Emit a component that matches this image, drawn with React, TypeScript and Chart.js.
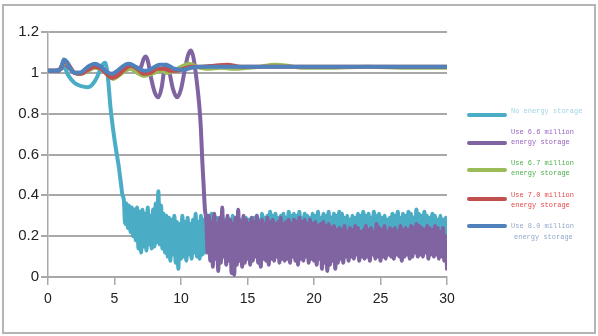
import React, { useEffect, useRef } from "react";
import { Chart, registerables } from "chart.js";

Chart.register(...registerables);

// ---------- data ----------
const seriesNames = [
  ["No energy storage"],
  ["Use 6.6 million", "energy storage"],
  ["Use 6.7 million", "energy storage"],
  ["Use 7.0 million", "energy storage"],
  ["Use 8.0 million", "energy storage"],
];
const seriesColors = ["#4bacc6", "#8064a2", "#9bbb59", "#c0504d", "#4f81bd"];
const legendTextColors = ["#9fd6e6", "#9a62c0", "#4fb04f", "#e24a4a", "#93a9c9"];

const xTicks = [0, 5, 10, 15, 20, 25, 30];
const yTicks = [0, 0.2, 0.4, 0.6, 0.8, 1, 1.2];
const yTickLabels = ["0", "0.2", "0.4", "0.6", "0.8", "1", "1.2"];

// No energy storage: smooth head then sampled noisy tail (step 0.1 from 5.7)
const noStorageHeadT = [0, 0.5, 1.0, 1.2, 1.5, 2.0, 2.5, 3.0, 3.3, 3.7, 4.0, 4.3, 4.5, 4.7, 4.9, 5.1, 5.3, 5.5, 5.6];
const noStorageHeadY = [1.01, 1.01, 1.02, 1.03, 0.99, 0.95, 0.935, 0.93, 0.94, 0.98, 1.03, 1.05, 0.98, 0.83, 0.72, 0.63, 0.55, 0.45, 0.40];
const noStorageTailStart = 5.7;
const noStorageTailY = [
  0.38, 0.26, 0.36, 0.24, 0.35, 0.22, 0.34, 0.20, 0.33, 0.18,
  0.34, 0.14, 0.32, 0.12, 0.33, 0.15, 0.31, 0.13, 0.34, 0.16,
  0.30, 0.14, 0.33, 0.15, 0.36, 0.17, 0.42, 0.16, 0.35, 0.14,
  0.31, 0.12, 0.30, 0.10, 0.29, 0.08, 0.28, 0.11, 0.30, 0.07,
  0.27, 0.04, 0.26, 0.09, 0.30, 0.10, 0.27, 0.08, 0.29, 0.11,
  0.26, 0.09, 0.28, 0.12, 0.31, 0.10, 0.27, 0.09, 0.30, 0.11,
  0.28, 0.12, 0.30, 0.15, 0.29, 0.16, 0.31, 0.14, 0.28, 0.17,
  0.29, 0.16, 0.27, 0.18, 0.30, 0.15, 0.28, 0.17, 0.26, 0.16,
  0.28, 0.15, 0.30, 0.17, 0.27, 0.16, 0.29, 0.18, 0.28, 0.15,
  0.27, 0.17, 0.29, 0.16, 0.28, 0.18, 0.26, 0.15, 0.29, 0.17,
  0.30, 0.16, 0.28, 0.17, 0.31, 0.18, 0.29, 0.16, 0.30, 0.17,
  0.32, 0.18, 0.30, 0.17, 0.31, 0.16, 0.29, 0.18, 0.30, 0.17,
  0.31, 0.16, 0.29, 0.18, 0.32, 0.17, 0.30, 0.16, 0.31, 0.18,
  0.30, 0.17, 0.32, 0.18, 0.29, 0.16, 0.31, 0.17, 0.30, 0.18,
  0.29, 0.16, 0.31, 0.18, 0.30, 0.17, 0.32, 0.16, 0.29, 0.18,
  0.31, 0.17, 0.30, 0.16, 0.32, 0.18, 0.29, 0.17, 0.31, 0.16,
  0.30, 0.18, 0.32, 0.17, 0.31, 0.16, 0.29, 0.18, 0.30, 0.17,
  0.28, 0.16, 0.30, 0.17, 0.29, 0.18, 0.31, 0.16, 0.30, 0.17,
  0.32, 0.18, 0.30, 0.17, 0.31, 0.16, 0.29, 0.18, 0.32, 0.17,
  0.30, 0.16, 0.31, 0.18, 0.29, 0.17, 0.30, 0.16, 0.28, 0.18,
  0.29, 0.17, 0.31, 0.16, 0.30, 0.18, 0.32, 0.17, 0.29, 0.16,
  0.31, 0.18, 0.30, 0.17, 0.32, 0.16, 0.31, 0.18, 0.29, 0.17,
  0.33, 0.16, 0.31, 0.18, 0.30, 0.17, 0.32, 0.16, 0.30, 0.18,
  0.29, 0.17, 0.31, 0.16, 0.30, 0.18, 0.28, 0.17, 0.30, 0.19,
  0.28, 0.20, 0.29, 0.19,
];

// Use 6.6 million energy storage
const storage66HeadT = [0, 0.5, 1.0, 1.2, 1.5, 2.0, 2.5, 3.0, 3.5, 4.0, 4.5, 4.8, 5.2, 5.8, 6.3, 6.8, 7.0, 7.2, 7.35, 7.5, 7.8, 8.05, 8.3, 8.55, 8.75, 8.9, 9.1, 9.4, 9.7, 10.0, 10.3, 10.55, 10.75, 10.95, 11.2, 11.4, 11.5, 11.6, 11.7, 11.8];
const storage66HeadY = [1.01, 1.01, 1.02, 1.05, 1.03, 1.0, 1.0, 1.01, 1.03, 1.02, 1.0, 0.99, 1.0, 1.02, 1.03, 1.02, 1.03, 1.07, 1.08, 1.06, 0.96, 0.9, 0.88, 0.93, 1.02, 1.04, 1.01, 0.92, 0.88, 0.92, 1.02, 1.09, 1.11, 1.07, 0.95, 0.82, 0.72, 0.57, 0.45, 0.33];
const storage66TailStart = 11.9;
const storage66TailY = [
  0.28, 0.12, 0.30, 0.08, 0.27, 0.05, 0.31, 0.09, 0.26, 0.03,
  0.29, 0.07, 0.34, 0.10, 0.27, 0.06, 0.30, 0.08, 0.28, 0.02,
  0.26, 0.01, 0.29, 0.06, 0.33, 0.08, 0.27, 0.05, 0.30, 0.07,
  0.28, 0.09, 0.26, 0.06, 0.29, 0.08, 0.27, 0.10, 0.30, 0.07,
  0.27, 0.05, 0.28, 0.09, 0.26, 0.08, 0.29, 0.06, 0.27, 0.09,
  0.28, 0.08, 0.26, 0.10, 0.27, 0.07, 0.29, 0.09, 0.26, 0.08,
  0.27, 0.09, 0.28, 0.07, 0.26, 0.10, 0.28, 0.08, 0.27, 0.06,
  0.29, 0.09, 0.27, 0.08, 0.28, 0.10, 0.26, 0.07, 0.28, 0.09,
  0.26, 0.08, 0.27, 0.06, 0.25, 0.09, 0.26, 0.04, 0.27, 0.07,
  0.25, 0.03, 0.26, 0.06, 0.24, 0.08, 0.25, 0.04, 0.23, 0.07,
  0.24, 0.09, 0.23, 0.07, 0.25, 0.10, 0.22, 0.08, 0.24, 0.10,
  0.23, 0.09, 0.25, 0.11, 0.24, 0.08, 0.22, 0.10, 0.23, 0.09,
  0.25, 0.10, 0.23, 0.08, 0.24, 0.11, 0.22, 0.09, 0.26, 0.10,
  0.24, 0.08, 0.23, 0.10, 0.25, 0.09, 0.22, 0.11, 0.24, 0.10,
  0.23, 0.09, 0.24, 0.11, 0.22, 0.10, 0.25, 0.08, 0.23, 0.10,
  0.24, 0.11, 0.23, 0.09, 0.25, 0.10, 0.24, 0.12, 0.26, 0.10,
  0.25, 0.11, 0.24, 0.10, 0.23, 0.12, 0.25, 0.09, 0.24, 0.11,
  0.23, 0.10, 0.25, 0.11, 0.24, 0.09, 0.22, 0.10, 0.24, 0.08,
  0.20, 0.04,
];

// Use 6.7 million energy storage
const storage67T = [0, 0.8, 1.0, 1.25, 1.5, 2.0, 2.5, 3.0, 3.5, 4.0, 4.5, 4.9, 5.3, 5.8, 6.2, 6.7, 7.2, 7.6, 8.0, 8.5, 9.0, 9.5, 10.0, 10.6, 11.2, 12.0, 13.0, 14.0, 15.0, 16.0, 17.0, 18.0, 19.0, 21.0, 24.0, 27.0, 30.0];
const storage67Y = [1.01, 1.01, 1.03, 1.055, 1.04, 1.0, 0.995, 1.01, 1.025, 1.02, 0.99, 0.97, 0.985, 1.01, 1.02, 1.0, 0.985, 0.99, 1.0, 1.01, 1.0, 1.01, 1.03, 1.045, 1.03, 1.02, 1.025, 1.02, 1.025, 1.03, 1.04, 1.035, 1.025, 1.025, 1.03, 1.025, 1.025];

// Use 7.0 million energy storage
const storage70T = [0, 0.8, 1.0, 1.25, 1.5, 2.0, 2.5, 3.0, 3.5, 4.0, 4.4, 4.8, 5.3, 5.8, 6.2, 6.7, 7.2, 7.7, 8.2, 8.7, 9.2, 9.7, 10.2, 10.8, 11.5, 12.5, 13.5, 14.5, 16.0, 18.0, 20.0, 23.0, 26.0, 30.0];
const storage70Y = [1.01, 1.01, 1.03, 1.06, 1.045, 1.0, 0.995, 1.015, 1.03, 1.02, 0.995, 0.975, 0.99, 1.02, 1.035, 1.02, 0.995, 1.0, 1.02, 1.02, 1.01, 1.01, 1.02, 1.03, 1.03, 1.035, 1.04, 1.03, 1.03, 1.03, 1.03, 1.03, 1.03, 1.03];

// Use 8.0 million energy storage
const storage80T = [0, 0.8, 1.0, 1.2, 1.4, 1.7, 2.0, 2.4, 3.0, 3.5, 4.0, 4.4, 4.8, 5.3, 5.8, 6.1, 6.6, 7.0, 7.4, 7.9, 8.4, 8.9, 9.5, 10.2, 10.8, 11.5, 12.5, 13.5, 15.0, 17.0, 20.0, 25.0, 30.0];
const storage80Y = [1.01, 1.01, 1.03, 1.065, 1.055, 1.02, 1.0, 1.0, 1.03, 1.045, 1.03, 1.005, 0.995, 1.015, 1.04, 1.045, 1.03, 1.015, 1.01, 1.025, 1.04, 1.04, 1.02, 1.015, 1.025, 1.03, 1.03, 1.03, 1.03, 1.03, 1.03, 1.03, 1.03];

// ---------- helpers ----------
type Pt = { x: number; y: number };
const pairPoints = (t: number[], y: number[]): Pt[] => t.map((x, i) => ({ x, y: y[i] }));
const sampledPoints = (start: number, y: number[]): Pt[] =>
  y.map((v, i) => ({ x: Math.round((start + i * 0.1) * 10) / 10, y: v }));

const seriesData: Pt[][] = [
  [...pairPoints(noStorageHeadT, noStorageHeadY), ...sampledPoints(noStorageTailStart, noStorageTailY)],
  [...pairPoints(storage66HeadT, storage66HeadY), ...sampledPoints(storage66TailStart, storage66TailY)],
  pairPoints(storage67T, storage67Y),
  pairPoints(storage70T, storage70Y),
  pairPoints(storage80T, storage80Y),
];

const framePlugin = {
  id: "frame",
  beforeDraw(chart: any) {
    const ctx = chart.ctx;
    ctx.save();
    ctx.fillStyle = "#ffffff";
    ctx.fillRect(0, 0, chart.width, chart.height);
    ctx.strokeStyle = "#b4b4b4";
    ctx.lineWidth = 2;
    ctx.strokeRect(3, 5, chart.width - 6, chart.height - 8);
    ctx.restore();
  },
};

const legendPlugin = {
  id: "customLegend",
  afterDraw(chart: any) {
    const ctx = chart.ctx;
    const lineY = [115, 143, 170, 199, 226];
    const textY = [[111], [132, 142], [163, 173], [195, 205], [226, 237]];
    const textX = [[511], [511, 511], [511, 511], [511, 511], [511, 514]];
    ctx.save();
    ctx.lineCap = "round";
    seriesNames.forEach((lines, i) => {
      ctx.strokeStyle = seriesColors[i];
      ctx.lineWidth = 4;
      ctx.beginPath();
      ctx.moveTo(469, lineY[i]);
      ctx.lineTo(505, lineY[i]);
      ctx.stroke();
      ctx.fillStyle = legendTextColors[i];
      ctx.font = "7px 'Liberation Mono', 'DejaVu Sans Mono', monospace";
      ctx.textBaseline = "middle";
      ctx.textAlign = "left";
      lines.forEach((txt, j) => {
        ctx.fillText(txt, textX[i][j], textY[i][j]);
      });
    });
    ctx.restore();
  },
};

export default function App() {
  const canvasRef = useRef<HTMLCanvasElement | null>(null);

  useEffect(() => {
    if (!canvasRef.current) return;
    const orders = [5, 4, 3, 2, 1];
    const chart = new Chart(canvasRef.current, {
      type: "line",
      data: {
        datasets: seriesData.map((pts, i) => ({
          label: seriesNames[i].join(" "),
          data: pts,
          borderColor: seriesColors[i],
          backgroundColor: seriesColors[i],
          borderWidth: 4,
          pointRadius: 0,
          fill: false,
          cubicInterpolationMode: "monotone" as const,
          borderCapStyle: "round" as const,
          borderJoinStyle: "round" as const,
          order: orders[i],
        })),
      },
      options: {
        animation: false,
        responsive: false,
        maintainAspectRatio: false,
        layout: { padding: { left: 0, right: 151, top: 32, bottom: 0 } },
        plugins: {
          legend: { display: false },
          tooltip: { enabled: false },
        },
        scales: {
          x: {
            type: "linear",
            min: 0,
            max: 30,
            afterBuildTicks: (scale: any) => {
              scale.ticks = xTicks.map((v) => ({ value: v }));
            },
            afterFit: (scale: any) => {
              scale.height = 59;
              scale.paddingLeft = 0;
              scale.paddingRight = 0;
            },
            ticks: {
              color: "#222",
              font: { family: "'Liberation Sans', Arial, sans-serif", size: 14 },
              padding: 6,
              maxRotation: 0,
              autoSkip: false,
            },
            grid: {
              drawOnChartArea: false,
              drawTicks: true,
              tickLength: 8,
              color: "#a8a8a8",
              lineWidth: 1.5,
            },
            border: { color: "#a8a8a8", width: 2 },
          },
          y: {
            type: "linear",
            min: 0,
            max: 1.2,
            afterBuildTicks: (scale: any) => {
              scale.ticks = yTicks.map((v) => ({ value: v }));
            },
            afterFit: (scale: any) => {
              scale.width = 48;
              scale.paddingTop = 0;
              scale.paddingBottom = 0;
            },
            ticks: {
              color: "#222",
              font: { family: "'Liberation Sans', Arial, sans-serif", size: 15 },
              padding: 2,
              autoSkip: false,
              callback: (_v: any, idx: number) => yTickLabels[idx],
            },
            grid: {
              drawOnChartArea: true,
              drawTicks: true,
              tickLength: 7,
              color: "#a8a8a8",
              lineWidth: 2,
            },
            border: { color: "#a8a8a8", width: 1.5 },
          },
        },
      },
      plugins: [framePlugin, legendPlugin],
    });
    return () => chart.destroy();
  }, []);

  return (
    <div style={{ position: "fixed", left: 0, top: 0, width: 598, height: 336, background: "#fff" }}>
      <canvas ref={canvasRef} width={598} height={336} style={{ display: "block" }} />
    </div>
  );
}
